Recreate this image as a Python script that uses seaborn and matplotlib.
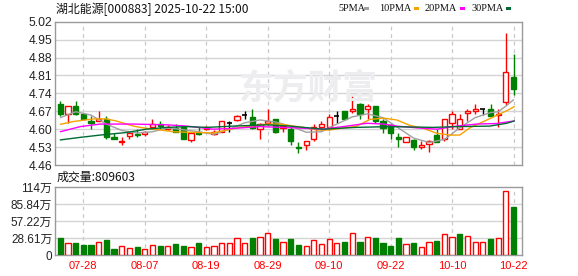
import matplotlib
matplotlib.use("Agg")
import matplotlib.pyplot as plt
import seaborn as sns
import numpy as np
import pandas as pd

# ---------------- data ----------------
dates = ["07-23", "07-24", "07-25", "07-28", "07-29", "07-30", "07-31", "08-01", "08-04", "08-05",
         "08-06", "08-07", "08-08", "08-11", "08-12", "08-13", "08-14", "08-15", "08-18", "08-19",
         "08-20", "08-21", "08-22", "08-25", "08-26", "08-27", "08-28", "08-29", "09-01", "09-02",
         "09-03", "09-04", "09-05", "09-08", "09-09", "09-10", "09-11", "09-12", "09-15", "09-16",
         "09-17", "09-18", "09-19", "09-22", "09-23", "09-24", "09-25", "09-26", "09-29", "09-30",
         "10-09", "10-10", "10-13", "10-14", "10-15", "10-16", "10-17", "10-20", "10-21", "10-22"]

open_ = [4.70, 4.66, 4.69, 4.66, 4.632, 4.633, 4.64, 4.57, 4.55, 4.575,
         4.583, 4.58, 4.61, 4.62, 4.60, 4.603, 4.607, 4.558, 4.585, 4.60,
         4.583, 4.59, 4.625, 4.636, 4.655, 4.648, 4.60, 4.623, 4.64, 4.603,
         4.60, 4.532, 4.54, 4.56, 4.607, 4.61, 4.652, 4.67, 4.67, 4.70,
         4.68, 4.69, 4.632, 4.616, 4.57, 4.55, 4.558, 4.532, 4.542, 4.577,
         4.56, 4.623, 4.60, 4.662, 4.672, 4.678, 4.678, 4.655, 4.705, 4.803]
close = [4.66, 4.69, 4.66, 4.64, 4.625, 4.64, 4.57, 4.56, 4.555, 4.585,
         4.578, 4.59, 4.62, 4.612, 4.607, 4.59, 4.56, 4.587, 4.58, 4.607,
         4.59, 4.63, 4.625, 4.65, 4.655, 4.603, 4.62, 4.63, 4.59, 4.612,
         4.552, 4.528, 4.555, 4.607, 4.62, 4.648, 4.652, 4.64, 4.678, 4.66,
         4.69, 4.632, 4.603, 4.584, 4.56, 4.57, 4.532, 4.538, 4.555, 4.55,
         4.638, 4.658, 4.638, 4.672, 4.678, 4.678, 4.652, 4.66, 4.822, 4.756]
high = [4.71, 4.69, 4.71, 4.665, 4.65, 4.67, 4.65, 4.585, 4.57, 4.59,
        4.60, 4.593, 4.64, 4.632, 4.615, 4.62, 4.61, 4.59, 4.607, 4.612,
        4.597, 4.63, 4.632, 4.655, 4.67, 4.678, 4.625, 4.68, 4.64, 4.615,
        4.61, 4.55, 4.555, 4.62, 4.632, 4.66, 4.672, 4.672, 4.73, 4.703,
        4.70, 4.69, 4.64, 4.62, 4.585, 4.57, 4.56, 4.555, 4.558, 4.60,
        4.64, 4.672, 4.66, 4.68, 4.70, 4.68, 4.70, 4.68, 4.977, 4.894]
low = [4.65, 4.625, 4.655, 4.635, 4.60, 4.63, 4.56, 4.56, 4.54, 4.56,
       4.568, 4.573, 4.60, 4.60, 4.595, 4.588, 4.56, 4.55, 4.578, 4.598,
       4.578, 4.59, 4.59, 4.63, 4.64, 4.60, 4.56, 4.615, 4.585, 4.59,
       4.54, 4.505, 4.52, 4.552, 4.597, 4.597, 4.623, 4.638, 4.663, 4.64,
       4.64, 4.625, 4.585, 4.56, 4.53, 4.55, 4.52, 4.522, 4.51, 4.548,
       4.555, 4.60, 4.60, 4.632, 4.658, 4.655, 4.65, 4.61, 4.695, 4.733]

# volume in 万 shares, and whether the volume bar is drawn as a rising (red) bar
volume_wan = [28.2, 21, 21, 16.6, 16.6, 22.7, 24.9, 10, 14.4, 11.6,
              13.3, 9.4, 16.6, 15, 15, 18.2, 15, 13.3, 19.9, 13.3,
              15, 21, 21, 28.2, 19.9, 28.2, 29.9, 36.5, 26.5, 22.7,
              26.5, 16.6, 14.4, 24.9, 18.2, 26.5, 19.9, 21.6, 36.5, 21.6,
              29.9, 28.2, 19.9, 15, 28.2, 18.2, 19.9, 13.3, 22.7, 23,
              34.8, 29.9, 34.8, 31.5, 22.7, 21.6, 26.5, 28.2, 107.8, 80.9603]
volume_rise = [0, 1, 0, 0, 0, 1, 0, 0, 1, 1,
               0, 1, 1, 0, 1, 0, 0, 1, 0, 1,
               1, 1, 1, 1, 1, 0, 1, 1, 0, 1,
               0, 0, 1, 1, 1, 1, 1, 0, 1, 0,
               1, 0, 0, 0, 0, 1, 0, 1, 1, 0,
               1, 1, 0, 1, 1, 1, 0, 1, 1, 0]

# moving averages at sample candle positions
ma5_x = [0, 2, 4, 6, 8, 10, 12, 14, 16, 18, 20, 22, 24, 26, 28, 30, 32, 34, 36, 38, 40, 42, 44, 46, 48, 50, 52, 54, 56, 57, 58, 59]
ma5_y = [4.645, 4.668, 4.655, 4.62, 4.595, 4.585, 4.59, 4.605, 4.598, 4.59, 4.58, 4.60, 4.625, 4.636, 4.628, 4.612,
         4.588, 4.59, 4.62, 4.648, 4.66, 4.645, 4.605, 4.565, 4.548, 4.56, 4.605, 4.645, 4.665, 4.668, 4.69, 4.715]
ma10_x = [0, 1.7, 4.3, 6.0, 7.3, 9.5, 10.8, 13, 14.7, 16.5, 18.2, 19.9, 21.7, 23.4, 25.1, 26.9, 28.6, 29.9,
          31.6, 33.4, 35.1, 36.9, 38.6, 40.3, 42.1, 43.8, 45.5, 47.3, 49, 50.7, 52, 53.3, 55.1, 56.4, 58.1, 59.1]
ma10_y = [4.619, 4.63, 4.64, 4.64, 4.632, 4.612, 4.605, 4.597, 4.59, 4.588, 4.587, 4.585, 4.597, 4.607, 4.612, 4.62,
          4.62, 4.614, 4.607, 4.597, 4.597, 4.605, 4.612, 4.638, 4.643, 4.636, 4.615, 4.603, 4.584, 4.577, 4.577,
          4.605, 4.63, 4.648, 4.672, 4.688]
ma20_x = [0, 2.6, 5.2, 9.5, 13.9, 16.5, 19.9, 22.5, 26, 29.9, 34.2, 37.3, 39.9, 42.1, 43.8, 46.5, 49, 51.6, 54.2, 56.8, 58.1, 59.1]
ma20_y = [4.59, 4.61, 4.62, 4.62, 4.617, 4.612, 4.60, 4.603, 4.61, 4.606, 4.60, 4.612, 4.623, 4.62, 4.612, 4.605,
          4.60, 4.612, 4.62, 4.622, 4.628, 4.632]
ma30_x = [0, 2.6, 5.2, 8.6, 11.2, 13.9, 16.5, 19.1, 22.5, 26.9, 29.9, 34.2, 38.5, 42.9, 48.5, 51.6, 55.9, 58.1, 59.1]
ma30_y = [4.558, 4.568, 4.577, 4.587, 4.60, 4.607, 4.61, 4.607, 4.612, 4.617, 4.612, 4.60, 4.607, 4.61, 4.607,
          4.61, 4.612, 4.623, 4.632]

tick_labels = ["07-28", "08-07", "08-19", "08-29", "09-10", "09-22", "10-10", "10-22"]
price_ticks = [4.46, 4.53, 4.60, 4.67, 4.74, 4.81, 4.88, 4.95, 5.02]
vol_ticks_wan = [0, 28.61, 57.22, 85.84, 114.45]
vol_tick_labels = ["0", "28.61万", "57.22万", "85.84万", "114万"]
title_text = "湖北能源[000883] 2025-10-22 15:00"
vol_title = "成交量:809603"
ma_names = ["5PMA", "10PMA", "20PMA", "30PMA"]

# ---------------- style ----------------
sns.set_theme(style="white")
plt.rcParams["font.family"] = ["Liberation Sans", "Noto Sans CJK SC", "DejaVu Sans"]

RED = "#ff0000"
GREEN = "#008000"
GRID = "#d4d4d4"
FRAME = "#9a9a9a"
ma_colors = ["#a0a0a0", "#f5a300", "#ff00ff", "#006a35"]

W, H = 578, 276
fig = plt.figure(figsize=(W / 100, H / 100), dpi=100)
fig.patch.set_facecolor("white")

L, R = 55, 522
ax = fig.add_axes([L / W, 1 - 165 / H, (R - L) / W, (165 - 21.7) / H])
axv = fig.add_axes([L / W, 1 - 255 / H, (R - L) / W, (255 - 187.3) / H])

n = len(dates)
idx = np.arange(n)
xlim = (-0.69, 60.1)
tick_pos = [dates.index(t) for t in tick_labels]

for a in (ax, axv):
    a.set_facecolor("none")
    a.set_xlim(*xlim)
    for s in a.spines.values():
        s.set_color(FRAME)
        s.set_linewidth(1.0)
    a.tick_params(axis="both", length=0, pad=2)
    for t in tick_pos:
        a.axvline(t, color="#c8c8c8", lw=0.9, ls=(0, (3, 3)), zorder=0)

# watermark
fig.text(308 / W, 1 - 88 / H, "东方财富", fontsize=25, fontweight="bold",
         color="#ededf0", ha="center", va="center", family=["Noto Sans CJK SC"], zorder=0)

# price panel
ax.set_ylim(price_ticks[0], price_ticks[-1])
ax.set_yticks(price_ticks)
ax.set_yticklabels([f"{v:.2f}" for v in price_ticks], fontsize=8.7, color="#222222")
for v in price_ticks[1:-1]:
    ax.axhline(v, color=GRID, lw=1, zorder=0)
ax.set_xticks(tick_pos)
ax.set_xticklabels([])

bw = 0.68
for i in idx:
    o, c, h, l = open_[i], close[i], high[i], low[i]
    if c > o:
        col, face = RED, "white"
    elif c < o:
        col, face = GREEN, GREEN
    else:
        col, face = "black", "black"
    ax.vlines(i, l, h, color=col, lw=1, zorder=3)
    if c == o:
        ax.hlines(c, i - bw / 2, i + bw / 2, color=col, lw=1.2, zorder=4)
    else:
        ax.bar(i, abs(c - o), bottom=min(o, c), width=bw, facecolor=face,
               edgecolor=col, linewidth=1, zorder=4)

for mx, my, colr in zip([ma5_x, ma10_x, ma20_x, ma30_x], [ma5_y, ma10_y, ma20_y, ma30_y], ma_colors):
    sns.lineplot(x=mx, y=my, ax=ax, color=colr, lw=1.0, sort=False, estimator=None, zorder=5)

# volume panel
vol = np.array(volume_wan) * 1e4
axv.set_ylim(0, vol_ticks_wan[-1] * 1e4)
axv.set_yticks([v * 1e4 for v in vol_ticks_wan])
axv.set_yticklabels(vol_tick_labels, fontsize=8.5, color="#222222")
for v in vol_ticks_wan[1:-1]:
    axv.axhline(v * 1e4, color=GRID, lw=1, zorder=0)
for i in idx:
    if volume_rise[i]:
        axv.bar(i, vol[i], width=bw, facecolor="white", edgecolor=RED, linewidth=1, zorder=3)
    else:
        axv.bar(i, vol[i], width=bw, facecolor=GREEN, edgecolor=GREEN, linewidth=1, zorder=3)
axv.set_xticks(tick_pos)
axv.set_xticklabels(tick_labels, fontsize=8)
axv.tick_params(axis="x", pad=4, labelcolor=RED, length=0)
for lab in axv.get_xticklabels():
    lab.set_color(RED)
axv.set_xlabel("")
axv.set_ylabel("")
ax.set_xlabel("")
ax.set_ylabel("")

# texts
fig.text(56 / W, 1 - 9.5 / H, title_text, fontsize=8.6, ha="left", va="center", color="#111111",
         family=["Noto Sans CJK SC", "DejaVu Sans"])
fig.text(57 / W, 1 - 177 / H, vol_title, fontsize=8.6, ha="left", va="center", color="#111111",
         family=["Noto Sans CJK SC", "DejaVu Sans"])

leg_x = [338, 379, 425, 472]
sq_x = [367, 416, 462, 508]
for name, lx, sx, colr in zip(ma_names, leg_x, sq_x, ma_colors):
    fig.text(lx / W, 1 - 8.5 / H, name, fontsize=7.4, ha="left", va="center", color="#111111",
             family=["Liberation Serif"])
    fig.patches.append(matplotlib.patches.Rectangle(((sx - 2.5) / W, 1 - 10 / H), 5 / W, 3 / H,
                                                    transform=fig.transFigure, facecolor=colr,
                                                    edgecolor="none"))

fig.savefig("out.png", dpi=100, facecolor="white")
